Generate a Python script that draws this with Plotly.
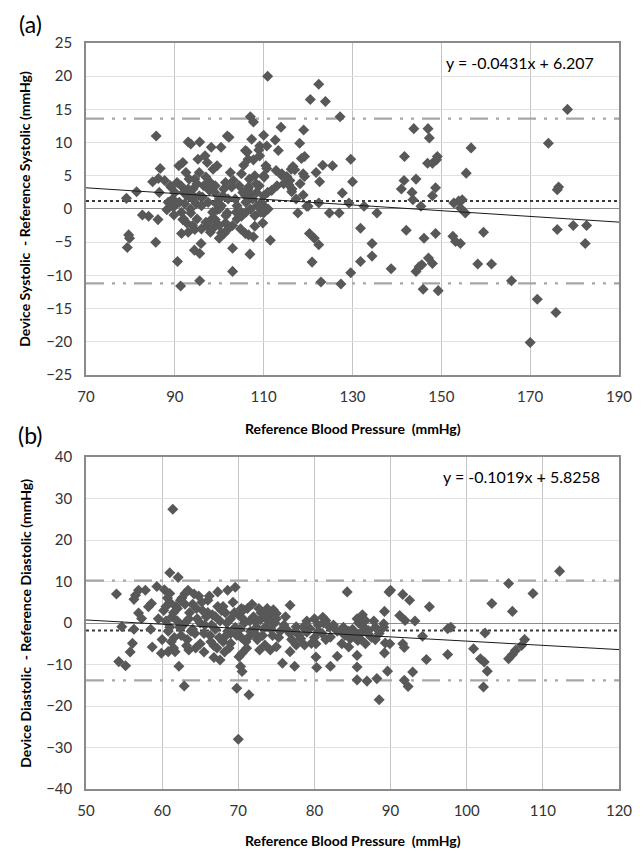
import plotly.graph_objects as go

# ---------------- Panel (a): systolic ----------------
sys_x = [79.1, 79.6, 79.8, 79.3, 81.4, 82.7, 84.1, 85.8, 85.0, 86.7, 86.5, 86.2, 85.7, 86.3, 87.7, 88.2, 89.1, 89.5, 89.5, 89.8, 90.6, 91.3,
         90.9, 91.8, 91.4, 93.0, 93.6, 95.6, 93.2, 92.7, 94.1, 95.5, 95.2, 96.8, 97.3, 98.2, 98.6, 99.1, 100.4, 100.0, 101.8, 102.2, 101.4,
         103.2, 103.6, 105.0, 105.9, 106.5, 105.9, 107.0, 107.7, 107.3, 109.1, 109.1, 110.5, 110.0, 108.4, 110.9, 110.9, 112.6, 110.0, 110.7,
         113.3, 113.9, 114.1, 114.5, 115.9, 116.2, 116.4, 117.3, 118.1, 118.5, 118.2, 119.0, 118.9, 120.5, 122.4, 123.9, 121.8, 122.6, 123.3,
         122.4, 125.5, 127.2, 127.7, 129.6, 130.0, 129.2, 132.6, 135.5,
         91.5, 91.8, 92.7, 93.6, 94.4, 94.5, 95.6, 95.9, 95.6, 97.3, 98.2, 99.1, 99.5, 100.0, 100.5, 101.1, 101.4, 101.8, 103.0, 103.0, 105.0,
         105.9, 106.9, 106.6, 107.7, 108.0, 109.8, 110.0, 111.5, 117.7, 119.7, 120.3, 120.9, 121.4, 122.4, 122.9, 124.8, 127.0, 127.4, 129.6,
         131.8, 131.8, 134.4, 134.4,
         106.3, 108.9, 119.2, 116.6, 117.0, 110.7, 105.5, 107.7, 114.0, 115.2, 119.2, 110.1, 115.7, 116.3, 118.9, 106.6, 107.0, 120.0,
         89.0, 90.0, 90.5, 91.0, 91.5, 92.0, 92.5, 93.0, 93.5, 94.0, 94.5, 95.0, 95.5, 96.0, 96.5, 97.0, 97.5, 98.0, 98.5, 99.0, 99.5, 100.0,
         100.5, 101.0, 101.5, 102.0, 102.5, 103.0, 104.0, 104.5, 105.0, 106.0, 106.5, 107.0, 107.5, 108.0, 108.5, 109.0, 109.5, 110.0, 111.0,
         88.5, 90.0, 92.0, 94.0, 96.0, 98.0, 100.0, 102.0, 104.0, 106.0, 108.0, 110.0, 113.0,
         92.2, 93.8, 95.0, 96.2, 97.8, 99.3, 100.8, 102.8, 103.8, 105.3, 106.8, 108.3, 109.3, 97.0, 94.8, 93.0, 98.8, 104.8, 111.8, 112.8,
         143.8, 147.0, 147.3, 141.7, 146.9, 148.0, 148.9, 149.1, 156.7, 155.6, 141.6, 144.3, 141.0, 143.4, 143.6, 145.4, 148.7, 148.0, 152.8,
         153.9, 154.7, 154.3, 155.4, 174.1, 178.4, 176.4, 176.1, 176.1, 179.7, 182.7, 182.4, 142.1, 146.1, 148.7, 152.6, 153.2, 154.3, 159.5,
         138.7, 144.3, 145.0, 145.6, 147.1, 148.0, 145.9, 149.3, 158.2, 161.3, 165.8, 171.6, 175.8, 170.0]
sys_y = [1.6, -3.9, -4.4, -5.8, 2.6, -0.9, -1.1, 11.0, 4.1, 6.1, 2.5, -1.6, -5.0, 4.6, 4.3, -0.1, 3.3, 1.5, 0.4, -0.9, -7.9, -11.6,
         6.5, 7.0, 3.5, 10.1, 9.8, 10.1, 4.5, 2.0, 3.0, 5.5, 7.5, 8.0, 7.0, 9.3, 6.0, 3.5, 9.3, 1.5, 11.0, 10.8, 4.0,
         4.3, 1.5, 5.3, 8.8, 7.5, 2.0, 13.9, 13.1, 10.5, 9.5, 8.0, 6.5, 5.0, 2.5, 20.0, 2.5, 10.4, 11.1, 9.5,
         8.8, 12.3, 5.3, 3.8, 4.3, 6.0, 3.0, 1.5, 9.9, 7.6, 3.8, 11.9, 5.3, 16.5, 18.8, 16.2, 5.5, 4.1, 6.6,
         0.9, 6.5, 13.9, 2.4, 7.5, 4.1, 0.9, 0.4, -0.6,
         -3.7, -1.6, -2.1, -0.6, -6.2, -3.1, -10.8, -5.2, -6.7, -2.6, -1.6, -1.6, -0.1, -4.4, -3.6, -3.7, -2.1, -0.6, -5.9, -9.4, -1.1,
         -3.7, -6.8, -3.9, -4.2, -2.6, -2.1, -0.6, -4.7, -0.6, 0.4, -3.7, -8.0, -4.4, -5.4, -11.0, -0.6, -0.6, -11.3, -9.6,
         -2.9, -7.9, -5.2, -7.1,
         8.6, 8.9, 7.9, 6.4, 5.9, 6.1, 6.6, 7.4, 5.1, 4.9, 4.9, 4.8, 3.6, 2.6, 2.1, 3.3, 2.3, 0.4,
         3.5, 0.5, 4.0, 1.0, -0.5, 2.5, 5.5, 3.0, 0.0, 1.5, 4.5, -1.5, 2.0, 0.5, 3.5, -2.0, 1.0, 4.0, -0.5, 2.5, 6.5, -2.5,
         0.5, 3.0, -1.0, 1.5, 5.5, -2.5, 0.5, 3.5, -0.5, 1.0, 3.0, 0.0, 1.5, 5.0, 0.5, 3.5, 1.0, 2.0, 0.0,
         1.0, 2.5, -1.5, -2.5, -3.0, -3.5, 0.0, -3.0, -1.5, -0.5, -1.0, 0.5, 3.5,
         0.8, 2.2, 3.8, 1.8, 2.8, 0.8, 2.0, 3.3, -0.5, 2.5, 4.5, 3.8, -0.5, 4.8, 0.8, -3.5, -2.8, -3.0, 2.8, 5.8,
         12.1, 12.1, 10.7, 7.9, 6.9, 6.9, 7.4, 7.9, 9.2, 5.4, 4.3, 4.5, 3.0, 2.5, 1.4, 0.4, 3.2, 2.0, 0.9,
         1.2, 1.4, 0.15, -0.6, 9.9, 15.0, 3.3, 2.9, -3.1, -2.5, -2.5, -5.2, -3.2, -4.4, -3.7, -4.1, -4.9, -5.2, -3.5,
         -9.0, -9.4, -8.7, -8.4, -7.4, -8.2, -12.1, -12.3, -8.3, -8.3, -10.8, -13.6, -15.6, -20.1]
sys_slope, sys_intercept = -0.0431, 6.207
sys_mean = 1.2
sys_loa = [13.6, -11.2]
sys_xrange = [70, 190]
sys_yrange = [-25, 25]
sys_xticks = [70, 90, 110, 130, 150, 170, 190]
sys_yticks = [-25, -20, -15, -10, -5, 0, 5, 10, 15, 20, 25]

# ---------------- Panel (b): diastolic ----------------
dia_x = [54.0, 54.7, 54.3, 55.2, 55.8, 56.1, 56.3, 56.9, 57.3, 56.3, 56.5, 56.9, 57.8, 58.6, 58.2, 59.3, 58.7, 59.9, 60.8, 61.7, 62.2,
         62.9, 61.0, 62.1, 61.0, 63.0, 63.4, 61.4,
         67.3, 68.6, 69.6, 76.8, 70.7, 74.6, 75.0, 74.2, 72.2, 72.9, 77.6, 79.4, 71.4, 69.0, 71.1, 70.5, 70.1, 73.5, 74.2, 75.0, 76.8,
         77.6, 78.7, 79.6, 66.8, 67.6, 75.8, 77.4, 70.3, 70.5, 69.8, 71.4, 70.0,
         112.2, 105.5, 108.7, 103.3, 106.0, 102.4, 100.9, 101.8, 102.3, 102.7, 102.2, 105.5, 106.0, 106.4, 107.2, 107.6,
         84.3, 89.8, 90.0, 91.6, 92.5, 95.1, 89.2, 91.2, 91.9, 93.2, 89.1, 89.1, 97.5, 97.9, 94.2, 85.6, 86.2, 86.7, 85.8, 86.5, 87.1,
         89.3, 89.9, 91.6, 91.8, 89.2, 94.7, 97.5, 85.6, 85.6, 89.6, 92.9, 85.6, 86.9, 88.2, 91.8, 92.3, 88.5, 81.5, 81.1, 82.1, 83.0,
         82.1, 83.6, 84.5, 85.7, 80.2, 80.2, 83.4, 84.7, 86.7, 80.3,
         60.2, 60.5, 60.8, 61.0, 61.3, 61.6, 62.0, 62.3, 62.6, 63.0, 63.3, 63.6, 64.0, 64.3, 64.6, 65.0, 65.3, 65.6, 66.0, 66.3, 66.6,
         67.0, 67.3, 67.6, 68.0, 68.3, 68.6, 69.0, 69.3, 69.6, 70.0, 70.4, 70.8, 71.2, 71.6, 72.0, 72.5, 73.0, 73.5, 74.0, 74.5, 75.0,
         75.5, 76.0, 60.0, 61.5, 63.5, 65.5, 59.5, 58.5, 62.8, 64.8, 66.8, 68.8, 72.8, 60.3, 61.8, 63.8, 65.8, 67.8, 69.8, 71.8, 73.8,
         76.5, 78.0, 79.0, 80.0, 80.5, 81.0, 82.0, 83.0, 84.0, 85.0, 86.0, 87.5, 88.0, 88.5, 80.0, 81.5, 77.0, 78.5,
         60.5, 61.0, 61.5, 62.0, 62.5, 63.0, 63.5, 64.0, 64.5, 65.0, 65.5, 66.0, 66.5, 67.0, 67.5, 68.0, 68.5, 69.0, 69.5, 70.2,
         70.6, 71.0, 71.5, 72.2, 72.7, 73.2, 73.7, 74.3, 74.8, 75.3, 76.2, 60.7, 62.4, 64.2, 65.2, 66.2, 67.2, 68.2, 63.2, 61.2,
         64.4, 66.4, 68.4, 70.4, 72.4,
         76.8, 77.5, 78.2, 79.0, 80.5, 81.2, 82.5, 83.8, 84.5, 85.3, 86.0, 87.0, 88.0, 87.8, 86.3]
dia_y = [7.0, -0.9, -9.3, -10.3, -7.0, -4.9, -1.5, 2.4, 1.1, 5.7, 6.7, 7.9, 7.9, 4.7, 3.9, 8.8, -5.8, -7.3, -6.9, -6.9, -10.4,
         -15.2, 12.1, 11.0, 7.1, 7.1, 7.9, 27.4,
         7.5, 7.9, 8.6, 4.3, 3.2, 3.2, 2.3, 2.1, 0.4, 0.8, -0.9, -1.3, -3.3, -4.9, -6.1, -7.3, -8.1, -5.3, -6.5, -5.7, -6.9,
         -5.3, -5.3, -4.9, -8.3, -8.9, -9.7, -10.4, -10.5, -11.7, -15.7, -17.3, -28.0,
         12.5, 9.5, 7.1, 4.7, 2.8, -2.4, -6.2, -8.6, -9.4, -11.6, -15.4, -8.6, -7.6, -6.6, -5.4, -4.0,
         7.5, 7.5, 7.9, 6.9, 5.5, 3.9, 2.8, 1.8, 0.6, 0.5, -0.2, -1.0, -1.4, -1.0, -3.2, 1.0, 1.4, 0.6, 0.0, -1.0, -1.8,
         -4.8, -5.0, -5.0, -5.9, -7.2, -8.8, -7.6, -7.8, -10.6, -11.6, -11.8, -13.7, -14.0, -13.4, -13.8, -15.3, -18.5, 0.6, 1.4, -3.4, -8.0,
         -10.4, -5.0, -5.8, -4.2, -5.0, -8.2, -1.8, -3.8, -5.0, -10.7,
         3.0, 0.5, -2.0, 5.0, 1.5, -3.5, 3.5, -1.0, 6.0, 0.0, -4.0, 2.5, 4.5, -2.5, 1.0, -5.0, 3.0, -0.5, 5.5, -3.0, 2.0,
         -1.5, 4.0, 0.5, -4.5, 2.5, -2.0, 1.0, 5.0, -1.0, 2.0, -3.5, 0.0, 3.5, -2.0, 1.5, -4.0, 2.5, -1.0, 0.5, -3.0, 1.0,
         -2.0, -0.5, -4.0, -6.0, -6.5, -7.0, 1.0, -1.5, -0.5, 6.5, -5.5, -6.0, -6.5, 8.0, 4.0, -2.0, 1.5, 3.0, -3.0, 4.5, 3.5,
         -1.8, -3.0, 0.5, 1.0, -0.5, -2.5, -1.0, -2.0, -3.0, -1.5, -2.5, -3.5, -1.0, -2.5, -3.5, -4.0, -4.0, -1.0,
         4.0, -1.0, 2.5, 0.5, -3.0, 4.5, 1.0, -1.5, 3.5, 0.0, -2.5, 2.5, -0.5, 1.5, -3.5, 4.0, 0.0, -2.5, 2.5, -1.5,
         1.0, -4.5, 0.5, -2.5, 3.5, -3.0, 1.5, -1.5, 0.0, -3.5, 1.5, 6.0, 5.5, 7.0, 5.0, 6.5, -6.0, -7.0, -5.5, -4.5,
         -6.0, -4.5, -3.0, 3.5, -1.0,
         -2.5, -2.0, -3.8, -2.2, -2.0, 0.0, -0.5, -1.0, -2.0, -2.8, -3.8, -2.5, -4.0, 0.5, 2.0]
dia_slope, dia_intercept = -0.1019, 5.8258
dia_mean = -1.8
dia_loa = [10.2, -13.8]
dia_xrange = [50, 120]
dia_yrange = [-40, 40]
dia_xticks = [50, 60, 70, 80, 90, 100, 110, 120]
dia_yticks = [-40, -30, -20, -10, 0, 10, 20, 30, 40]

FONT = "Lato, 'Open Sans', sans-serif"
MARK = "#585858"
LOA_DASH = "18px,8px,3px,8px,3px,8px"

fig = go.Figure()


def add_panel(xs, ys, slope, intercept, mean, loa, xr, xa, ya):
    fig.add_trace(go.Scatter(x=[xr[0], xr[1]], y=[mean, mean], mode="lines",
                             line=dict(color="#3a3a3a", width=2, dash="dot"),
                             xaxis=xa, yaxis=ya, showlegend=False, hoverinfo="skip"))
    for v in loa:
        fig.add_trace(go.Scatter(x=[xr[0], xr[1]], y=[v, v], mode="lines",
                                 line=dict(color="#a6a6a6", width=2.2, dash=LOA_DASH),
                                 xaxis=xa, yaxis=ya, showlegend=False, hoverinfo="skip"))
    fig.add_trace(go.Scatter(x=xs, y=ys, mode="markers",
                             marker=dict(symbol="diamond", size=8.5, color=MARK, line=dict(width=0)),
                             xaxis=xa, yaxis=ya, showlegend=False))
    fig.add_trace(go.Scatter(x=[xr[0], xr[1]], y=[slope * xr[0] + intercept, slope * xr[1] + intercept],
                             mode="lines", line=dict(color="#1a1a1a", width=1),
                             xaxis=xa, yaxis=ya, showlegend=False, hoverinfo="skip"))


add_panel(sys_x, sys_y, sys_slope, sys_intercept, sys_mean, sys_loa, sys_xrange, "x", "y")
add_panel(dia_x, dia_y, dia_slope, dia_intercept, dia_mean, dia_loa, dia_xrange, "x2", "y2")

xcommon = dict(showgrid=True, gridcolor="#c4c4c4", gridwidth=1, zeroline=False,
               showline=True, linecolor="#8a8a8a", linewidth=1.5, mirror=True,
               ticks="outside", ticklen=7, tickcolor="rgba(0,0,0,0)",
               tickfont=dict(family=FONT, size=15, color="#333333"))
ycommon = dict(showgrid=True, gridcolor="#e0e0e0", gridwidth=1, zeroline=True,
               zerolinecolor="#8c8c8c", zerolinewidth=1,
               showline=True, linecolor="#8a8a8a", linewidth=1.5, mirror=True,
               ticks="outside", ticklen=9, tickcolor="rgba(0,0,0,0)",
               tickfont=dict(family=FONT, size=15, color="#333333"))

# The page places the figure 8px in from the top-left corner, so the figure is
# 8px smaller and its margins are shifted to keep the plot areas where they belong.
fig.update_layout(
    width=636, height=845,
    margin=dict(l=78, r=17, t=35, b=64),
    paper_bgcolor="white", plot_bgcolor="white",
    font=dict(family=FONT, color="#000000"),
    xaxis=dict(xcommon, domain=[0, 1], range=sys_xrange, tickvals=sys_xticks, anchor="y"),
    yaxis=dict(ycommon, domain=[0.555, 1], range=sys_yrange, tickvals=sys_yticks, anchor="x"),
    xaxis2=dict(xcommon, domain=[0, 1], range=dia_xrange, tickvals=dia_xticks, anchor="y2"),
    yaxis2=dict(ycommon, domain=[0, 0.445], range=dia_yrange, tickvals=dia_yticks, anchor="x2"),
)

bold = dict(family=FONT, size=14, color="#000000")
ann = [
    dict(text="(a)", xref="paper", yref="paper", x=-0.104, y=1.026, showarrow=False,
         font=dict(family=FONT, size=23, color="#000000"), xanchor="center", yanchor="middle"),
    dict(text="(b)", xref="paper", yref="paper", x=-0.104, y=0.4745, showarrow=False,
         font=dict(family=FONT, size=23, color="#000000"), xanchor="center", yanchor="middle"),
    dict(text="<b>Device Systolic  - Reference Systolic (mmHg)</b>", xref="paper", yref="y domain",
         x=-0.115, y=0.5, textangle=-90, showarrow=False, font=bold, xanchor="center", yanchor="middle"),
    dict(text="<b>Device Diastolic  - Reference Diastolic (mmHg)</b>", xref="paper", yref="y2 domain",
         x=-0.115, y=0.5, textangle=-90, showarrow=False, font=bold, xanchor="center", yanchor="middle"),
    dict(text="<b>Reference Blood Pressure  (mmHg)</b>", xref="x domain", yref="y domain",
         x=0.5, y=-0.16, showarrow=False, font=bold, xanchor="center", yanchor="middle"),
    dict(text="<b>Reference Blood Pressure  (mmHg)</b>", xref="x2 domain", yref="y2 domain",
         x=0.5, y=-0.156, showarrow=False, font=bold, xanchor="center", yanchor="middle"),
    dict(text="y = -0.0431x + 6.207", xref="x", yref="y", x=167.8, y=22.1, showarrow=False,
         font=dict(family=FONT, size=16, color="#000000"), xanchor="center", yanchor="middle"),
    dict(text="y = -0.1019x + 5.8258", xref="x2", yref="y2", x=107.2, y=35.2, showarrow=False,
         font=dict(family=FONT, size=16, color="#000000"), xanchor="center", yanchor="middle"),
]
fig.update_layout(annotations=ann)

fig.write_html("out.html")
